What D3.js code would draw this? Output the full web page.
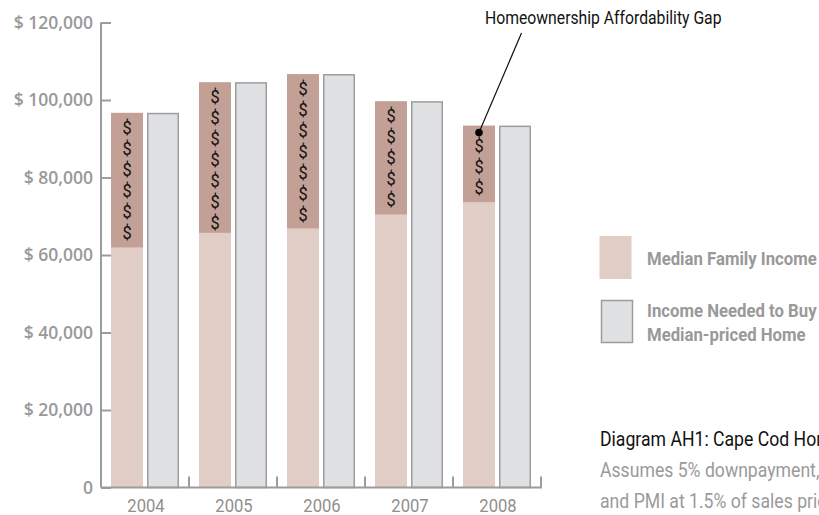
<!DOCTYPE html>
<html>
<head>
<meta charset="utf-8">
<script src="https://cdn.jsdelivr.net/npm/d3@7/dist/d3.min.js"></script>
<style>
  html, body { margin: 0; padding: 0; background: #fff; }
  svg { display: block; overflow: hidden; }
</style>
</head>
<body>
<svg id="chart" width="819" height="515"></svg>
<script>
// Cape Cod homeownership affordability gap, 2004–2008
const years = ["2004", "2005", "2006", "2007", "2008"];
const medianFamilyIncome = [61900, 65700, 66800, 70400, 73600];
const incomeNeeded = [96700, 104600, 106700, 99700, 93400];
const yTicks = [0, 20000, 40000, 60000, 80000, 100000, 120000];
const legendLabels = [["Median Family Income"], ["Income Needed to Buy", "Median-priced Home"]];
const captionTitle = "Diagram AH1: Cape Cod Homeownership Affordability Gap";
const captionNotes = ["Assumes 5% downpayment, 30-year fixed mortgage", "and PMI at 1.5% of sales price"];
const calloutText = "Homeownership Affordability Gap";

const colors = {
  income: "#e0cdc6",
  gap: "#c3a096",
  needed: "#e0e1e3",
  neededStroke: "#9d9d9f",
  axis: "#9c9c9c",
  label: "#999999"
};

// Narrow gothic look: Roboto squeezed horizontally
const CONDENSED = "Roboto, 'Liberation Sans', sans-serif";
const SQUEEZE = 0.9;
function condText(parent, xPos, yPos, str, opts = {}) {
  const t = parent.append("text")
    .attr("transform", `translate(${xPos},${yPos}) scale(${opts.squeeze || SQUEEZE},1)`)
    .attr("font-family", CONDENSED)
    .attr("font-size", opts.size || 18)
    .attr("font-weight", opts.weight || "normal")
    .attr("fill", opts.fill || "#111")
    .attr("text-anchor", opts.anchor || "start");
  if (opts.dy) t.attr("dy", opts.dy);
  t.text(str);
  return t;
}

const svg = d3.select("#chart");
const x0 = 101, x1 = 541, yTop = 22.5, yBase = 487.5;

const x = d3.scaleBand().domain(years).range([x0, x1]).paddingInner(0).paddingOuter(0);
const xs = d3.scaleBand().domain(["income", "needed"]).range([10, x.bandwidth() - 10]).paddingInner(4 / 36);
const y = d3.scaleLinear().domain([0, 120000]).range([yBase, yTop]);

const data = years.map((yr, i) => ({ year: yr, income: medianFamilyIncome[i], needed: incomeNeeded[i] }));

// Bars
const grp = svg.append("g").selectAll("g.year").data(data).join("g")
  .attr("class", "year")
  .attr("transform", d => `translate(${x(d.year)},0)`);

grp.append("rect")
  .attr("x", xs("income")).attr("width", xs.bandwidth())
  .attr("y", d => y(d.income)).attr("height", d => y(0) - y(d.income))
  .attr("fill", colors.income);

grp.append("rect")
  .attr("x", xs("income")).attr("width", xs.bandwidth())
  .attr("y", d => y(d.needed)).attr("height", d => y(d.income) - y(d.needed))
  .attr("fill", colors.gap);

grp.append("rect")
  .attr("x", xs("needed") + 0.75).attr("width", xs.bandwidth() - 1.5)
  .attr("y", d => y(d.needed) + 0.75).attr("height", d => y(0) - y(d.needed) - 0.75)
  .attr("fill", colors.needed)
  .attr("stroke", colors.neededStroke).attr("stroke-width", 1.5);

// Dollar signs stacked inside each gap segment
const step = 21;
grp.each(function (d, i) {
  const top = y(d.needed), bottom = y(d.income);
  const last = i === data.length - 1;
  const start = last ? top + 20 : top + 14;
  const count = Math.floor((bottom - start + 4) / step) + 1;
  const cx = xs("income") + xs.bandwidth() / 2;
  const sel = d3.select(this);
  d3.range(Math.max(0, Math.min(count, last ? 3 : 99))).forEach(k => {
    condText(sel, cx, start + k * step, "$", { size: 19, anchor: "middle", dy: "0.36em", fill: "#111", squeeze: 0.86 });
  });
});

// Y axis
const yAxis = d3.axisLeft(y).tickValues(yTicks).tickSize(-10).tickPadding(8)
  .tickFormat(v => v === 0 ? "0" : "$ " + d3.format(",")(v));
const ya = svg.append("g").attr("transform", `translate(${x0},0)`).call(yAxis);
ya.select(".domain").attr("d", `M0,${yTop}V${yBase}`).attr("stroke", colors.axis).attr("stroke-width", 2);
ya.selectAll(".tick line").attr("stroke", colors.axis).attr("stroke-width", 2);
ya.selectAll(".tick text")
  .attr("fill", colors.label)
  .attr("font-family", "'Open Sans', sans-serif")
  .attr("font-weight", 600)
  .attr("font-size", 17.5);

// X axis: baseline with separators between year groups
const xa = svg.append("g");
xa.append("line")
  .attr("x1", x0).attr("x2", x1 + 1)
  .attr("y1", yBase).attr("y2", yBase)
  .attr("stroke", colors.axis).attr("stroke-width", 2);
xa.selectAll("line.sep").data(years).join("line")
  .attr("class", "sep")
  .attr("x1", d => x(d) + x.bandwidth()).attr("x2", d => x(d) + x.bandwidth())
  .attr("y1", yBase).attr("y2", yBase - 11)
  .attr("stroke", colors.axis).attr("stroke-width", 2);
years.forEach(yr => {
  condText(xa, x(yr) + x.bandwidth() / 2 + 1, 512, yr, { size: 18.5, anchor: "middle", fill: "#8f8f8f" });
});

// Callout pointing at the last gap segment
const lastD = data[data.length - 1];
const dotX = x(lastD.year) + xs("income") + xs.bandwidth() / 2;
const dotY = y(lastD.needed) + 7;
svg.append("line")
  .attr("x1", 521.5).attr("y1", 33)
  .attr("x2", dotX).attr("y2", dotY)
  .attr("stroke", "#111").attr("stroke-width", 1.2);
svg.append("circle").attr("cx", dotX).attr("cy", dotY).attr("r", 3.8).attr("fill", "#000");
condText(svg, 485, 24, calloutText, { size: 17.5, fill: "#111" });

// Legend
const legend = svg.append("g");
legend.append("rect").attr("x", 599.5).attr("y", 236).attr("width", 32).attr("height", 43).attr("fill", colors.income);
legend.append("rect").attr("x", 601.5).attr("y", 300.5).attr("width", 31).attr("height", 42)
  .attr("fill", colors.needed).attr("stroke", colors.neededStroke).attr("stroke-width", 1.5);
condText(legend, 647, 265, legendLabels[0][0], { size: 18, weight: "bold", fill: colors.label, squeeze: 0.93 });
legendLabels[1].forEach((s, i) => {
  condText(legend, 647, 317 + i * 24, s, { size: 18, weight: "bold", fill: colors.label, squeeze: 0.93 });
});

// Caption
const cap = svg.append("g");
condText(cap, 600, 446, captionTitle, { size: 19.5, fill: "#111", squeeze: 0.905 });
captionNotes.forEach((s, i) => {
  condText(cap, 600, 477 + i * 31, s, { size: 19.5, fill: "#9a9a9a", squeeze: 0.905 });
});
</script>
</body>
</html>
